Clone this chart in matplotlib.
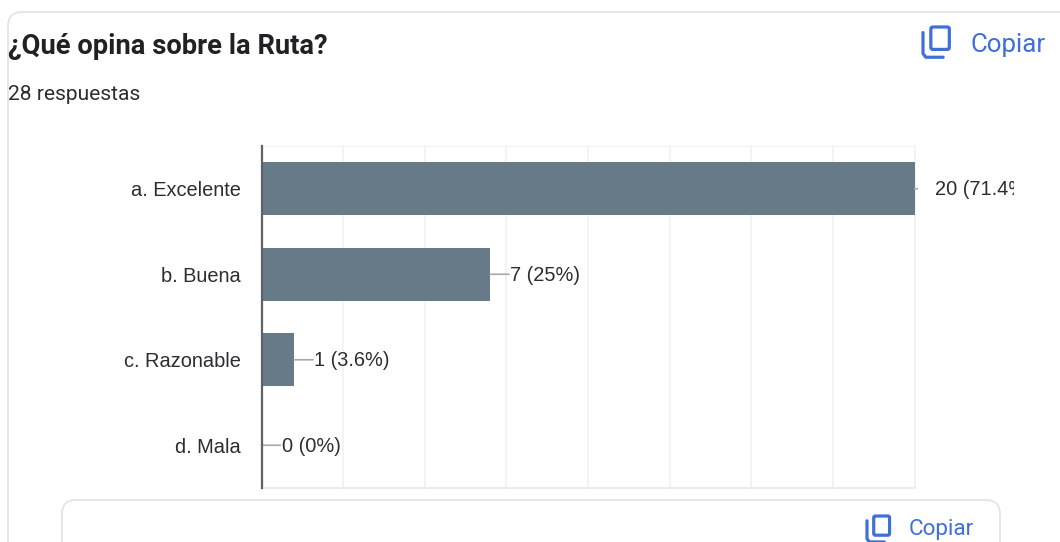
import matplotlib
matplotlib.use("Agg")
import matplotlib.pyplot as plt
from matplotlib.patches import FancyBboxPatch
from matplotlib.transforms import Bbox

# data
categories = ["a. Excelente", "b. Buena", "c. Razonable", "d. Mala"]
counts     = [20, 7, 1, 0]
labels     = ["20 (71.4%)", "7 (25%)", "1 (3.6%)", "0 (0%)"]
gridlines  = [2.5, 5, 7.5, 10, 12.5, 15, 17.5, 20]

W, H = 1060, 542
BAR   = "#667a88"
BLUE  = "#3f6fd8"
TEXT  = "#2b2d30"
CARD  = "#e3e3e8"
PX    = 72 / 100        # points per pixel

fig = plt.figure(figsize=(W / 100, H / 100), dpi=100, facecolor="white")

# overlay in pixel coords, for the page furniture around the chart
page = fig.add_axes([0, 0, 1, 1], zorder=0)
page.set_xlim(0, W); page.set_ylim(H, 0); page.axis("off")


def card(x0, y0, x1, y1, lw=1.3):
    page.add_patch(FancyBboxPatch((x0, y0), x1 - x0, y1 - y0,
                                  boxstyle="round,pad=0,rounding_size=14",
                                  fc="white", ec=CARD, lw=lw, clip_on=True))


def copy_icon(x, y, s):
    # front page and the L shaped back page
    page.add_patch(FancyBboxPatch((x + 0.28 * s, y), 0.66 * s, 0.8 * s,
                                  boxstyle=f"round,pad=0,rounding_size={0.07 * s}",
                                  fc="none", ec=BLUE, lw=2.3))
    page.plot([x, x, x + 0.1 * s, x + 0.72 * s],
              [y + 0.2 * s, y + 0.95 * s, y + 1.08 * s, y + 1.08 * s],
              color=BLUE, lw=2.3, solid_capstyle="round")


card(8, 12, 1100, 600)
card(62, 500, 1000, 600)

page.text(8, 46, "¿Qué opina sobre la Ruta?", family="Roboto", weight="bold",
          fontsize=19.7, color="#202124", va="center", ha="left")
page.text(8, 95, "28 respuestas", family="Roboto", fontsize=15.1,
          color=TEXT, va="center", ha="left")

copy_icon(923, 27, 28)
page.text(971, 45, "Copiar", family="Roboto", fontsize=18.6,
          color=BLUE, va="center", ha="left")
copy_icon(867, 516, 24)
page.text(909, 530, "Copiar", family="Roboto", fontsize=16.2,
          color=BLUE, va="center", ha="left")

# chart
ax = fig.add_axes([261.5 / W, 1 - 488 / H, 653 / W, 342 / H], zorder=1)
ax.patch.set_alpha(0)
ypos = range(len(categories))
ax.barh(ypos, counts, height=0.62, color=BAR, zorder=3)
ax.set_xlim(0, 20)
ax.set_ylim(len(categories) - 0.5, -0.5)
ax.set_xticks([])
ax.set_yticks(list(ypos))
ax.set_yticklabels(categories, family="Liberation Sans", fontsize=14.4,
                   color=TEXT)
ax.tick_params(axis="y", length=0, pad=15)

for v in gridlines:
    ax.axvline(v, color="#f1f1f3", lw=1.2, zorder=1, clip_on=False)
for side in ("top", "right"):
    ax.spines[side].set_visible(False)
ax.plot([0, 20], [-0.5, -0.5], color="#f5f5f7", lw=1, zorder=1, clip_on=False)
ax.spines["bottom"].set_color("#ebebed")
ax.spines["bottom"].set_linewidth(1.3)
ax.spines["left"].set_color("#5f6368")
ax.spines["left"].set_linewidth(1.6)
ax.spines["left"].set_zorder(5)

for y, (n, lab) in enumerate(zip(counts, labels)):
    # the top bar fills the axis, so its leader is only a stub
    lead = 3 if n == max(counts) else 19
    ax.annotate("", xy=(n, y), xytext=(lead * PX, 0),
                textcoords="offset points", annotation_clip=False,
                arrowprops=dict(arrowstyle="-", color="#a9a9a9", lw=1.2,
                                shrinkA=0, shrinkB=0))
    txt = ax.annotate(lab, xy=(n, y), xytext=(20 * PX, -1 * PX),
                      textcoords="offset points", annotation_clip=False,
                      family="Liberation Sans", fontsize=14.4, color=TEXT,
                      va="center", ha="left")
    # the label of the top bar is cut off by the chart frame
    txt.set_clip_box(Bbox([[0, 0], [1014, H]]))
    txt.set_clip_on(True)

fig.savefig("out.png", dpi=100)
